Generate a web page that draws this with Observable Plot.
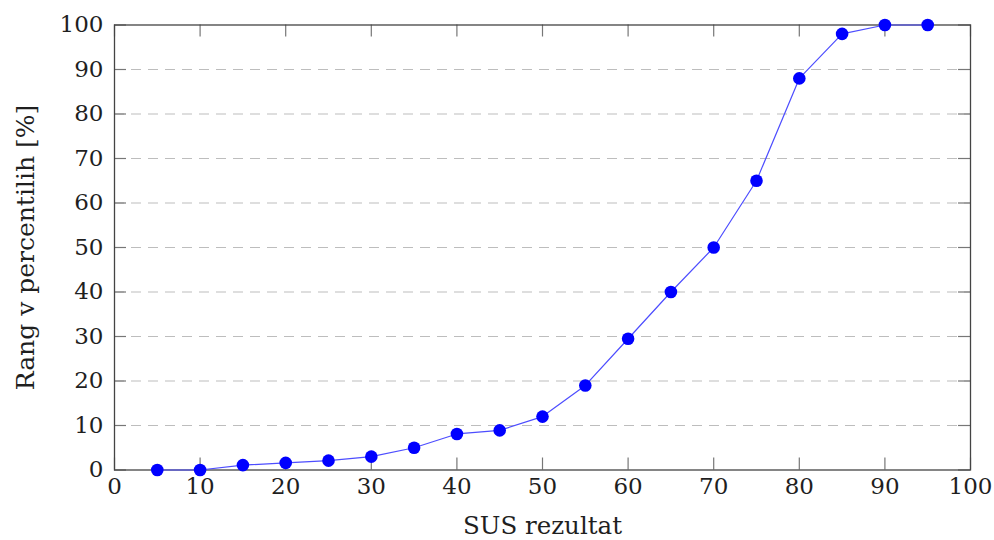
<!DOCTYPE html>
<html>
<head>
<meta charset="utf-8">
<script src="https://cdn.jsdelivr.net/npm/d3@7"></script>
<script src="https://cdn.jsdelivr.net/npm/@observablehq/plot@0.6"></script>
<style>
  html, body { margin: 0; padding: 0; background: #fff; }
</style>
</head>
<body>
<div id="chart"></div>
<script>
const susScores = [5, 10, 15, 20, 25, 30, 35, 40, 45, 50, 55, 60, 65, 70, 75, 80, 85, 90, 95];
const percentileRanks = [0, 0, 1.1, 1.6, 2.1, 3, 5, 8.1, 8.9, 12, 19, 29.5, 40, 50, 65, 88, 98, 100, 100];
const xTicks = [0, 10, 20, 30, 40, 50, 60, 70, 80, 90, 100];
const yTicks = [0, 10, 20, 30, 40, 50, 60, 70, 80, 90, 100];
const gridTicks = [10, 20, 30, 40, 50, 60, 70, 80, 90];
const xLabel = "SUS rezultat";
const yLabel = "Rang v percentilih [%]";

const data = susScores.map((s, i) => ({x: s, y: percentileRanks[i]}));

const W = 994, H = 540;
const mL = 114, mR = 24, mT = 24.5, mB = 70.5;
const innerH = H - mT - mB;
const innerW = W - mL - mR;
const tickLen = 12;
const FONT = "DejaVu Serif";

const chart = Plot.plot({
  width: W,
  height: H,
  marginLeft: mL,
  marginRight: mR,
  marginTop: mT,
  marginBottom: mB,
  style: {fontFamily: FONT, fontSize: "23px", color: "#1f1f1f", background: "#fff", overflow: "visible"},
  x: {domain: [0, 100]},
  y: {domain: [0, 100]},
  marks: [
    Plot.ruleY(gridTicks, {stroke: "#bdbdbd", strokeWidth: 1.2, strokeDasharray: "10,7"}),
    Plot.tickX(xTicks, {x: d => d, stroke: "#777", strokeWidth: 1.2, insetTop: innerH - tickLen}),
    Plot.tickX(xTicks, {x: d => d, stroke: "#777", strokeWidth: 1.2, insetBottom: innerH - tickLen}),
    Plot.tickY(yTicks, {y: d => d, stroke: "#777", strokeWidth: 1.2, insetRight: innerW - tickLen}),
    Plot.tickY(yTicks, {y: d => d, stroke: "#777", strokeWidth: 1.2, insetLeft: innerW - tickLen}),
    Plot.frame({stroke: "#444", strokeWidth: 1.3}),
    Plot.axisX({ticks: xTicks, tickSize: 0, tickPadding: 8, label: null, fontFamily: FONT, fontSize: 23}),
    Plot.axisY({ticks: yTicks, tickSize: 0, tickPadding: 11, label: null, fontFamily: FONT, fontSize: 23}),
    Plot.text([xLabel], {frameAnchor: "bottom", textAnchor: "middle", dy: 64, text: d => d, fontFamily: FONT, fontSize: 24.5, fill: "#1f1f1f"}),
    Plot.text([yLabel], {frameAnchor: "left", textAnchor: "middle", lineAnchor: "middle", dx: -89, rotate: -90, text: d => d, fontFamily: FONT, fontSize: 25, fill: "#1f1f1f"}),
    Plot.line(data, {x: "x", y: "y", stroke: "#4d4dff", strokeWidth: 1.2}),
    Plot.dot(data, {x: "x", y: "y", r: 6.3, fill: "#0000ff", stroke: "none"})
  ]
});
document.getElementById("chart").appendChild(chart);
</script>
</body>
</html>
